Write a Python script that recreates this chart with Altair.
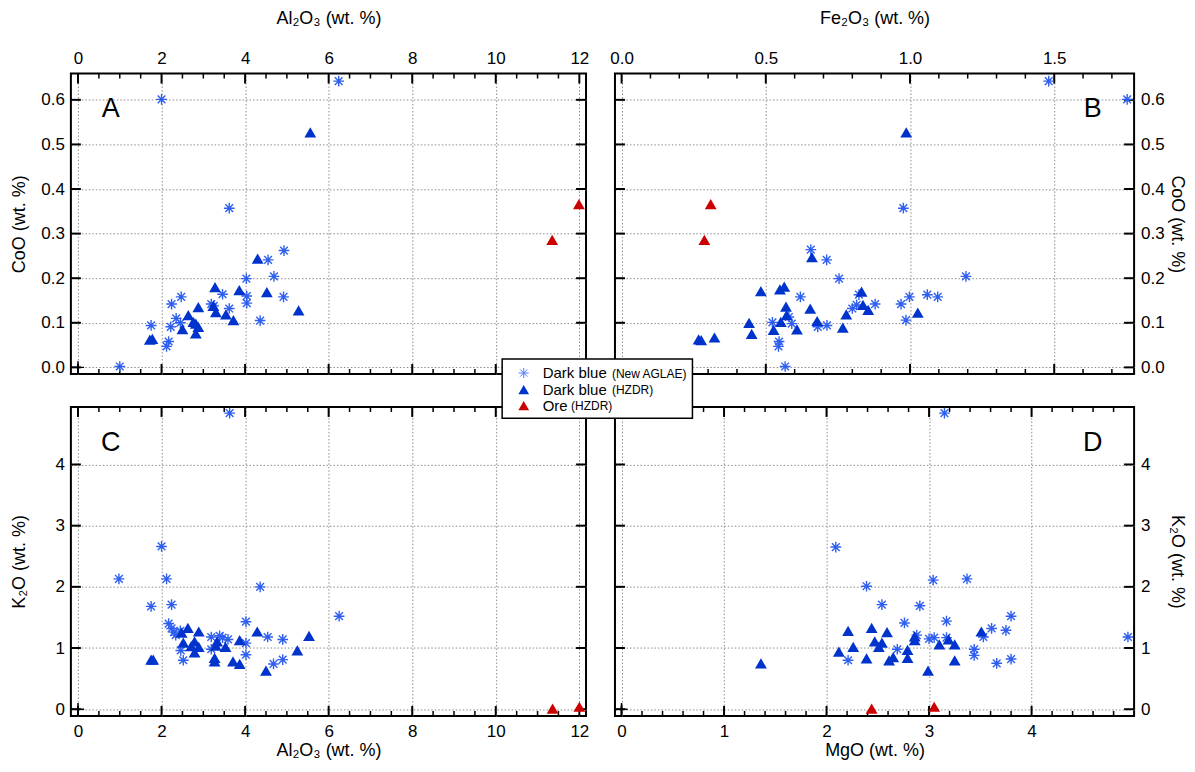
import altair as alt
import pandas as pd

# ---------------- data ----------------
# Panel A : Al2O3 vs CoO
a_aglae_al2o3 = [6.24, 2.00, 3.62, 4.93, 4.55, 4.69, 4.03, 4.92, 4.04, 4.04, 2.47, 2.24, 3.46, 3.19, 3.25, 3.62, 4.36, 1.75, 2.35, 2.45, 2.22, 2.17, 2.12, 1.00]
a_aglae_coo = [0.642, 0.601, 0.357, 0.262, 0.241, 0.204, 0.199, 0.158, 0.160, 0.144, 0.158, 0.142, 0.164, 0.142, 0.138, 0.132, 0.105, 0.094, 0.110, 0.100, 0.091, 0.058, 0.047, 0.002]
a_hzdr_al2o3 = [5.56, 4.30, 3.28, 3.86, 4.52, 2.88, 5.28, 3.24, 3.30, 3.54, 2.64, 3.72, 2.76, 2.82, 2.88, 2.50, 2.82, 1.78, 1.72]
a_hzdr_coo = [0.527, 0.244, 0.180, 0.173, 0.169, 0.135, 0.128, 0.138, 0.124, 0.119, 0.117, 0.106, 0.102, 0.098, 0.091, 0.086, 0.076, 0.064, 0.062]
a_ore_al2o3 = [11.35, 11.99]
a_ore_coo = [0.286, 0.366]

# Panel B : Fe2O3 vs CoO
b_aglae_fe2o3 = [1.481, 1.753, 0.977, 0.656, 0.711, 0.754, 1.194, 0.620, 1.060, 1.096, 0.998, 0.969, 0.879, 0.800, 0.815, 0.823, 0.986, 0.523, 0.580, 0.590, 0.680, 0.712, 0.546, 0.544, 0.567]
b_aglae_coo = [0.642, 0.601, 0.357, 0.264, 0.241, 0.199, 0.204, 0.158, 0.163, 0.158, 0.158, 0.142, 0.142, 0.132, 0.140, 0.163, 0.106, 0.101, 0.113, 0.098, 0.091, 0.094, 0.058, 0.047, 0.002]
b_hzdr_fe2o3 = [0.987, 0.660, 0.483, 0.549, 0.564, 0.570, 0.654, 0.832, 0.837, 0.855, 0.779, 1.027, 0.572, 0.552, 0.678, 0.608, 0.527, 0.442, 0.451, 0.767, 0.322, 0.267, 0.276]
b_hzdr_coo = [0.527, 0.247, 0.171, 0.175, 0.181, 0.136, 0.132, 0.170, 0.140, 0.129, 0.119, 0.123, 0.117, 0.102, 0.104, 0.085, 0.084, 0.100, 0.075, 0.089, 0.067, 0.063, 0.061]
b_ore_fe2o3 = [0.287, 0.309]
b_ore_coo = [0.286, 0.366]

# Panel C : Al2O3 vs K2O
c_aglae_al2o3 = [3.63, 2.00, 0.98, 2.12, 4.36, 1.75, 2.24, 6.25, 4.02, 2.17, 2.24, 2.30, 2.34, 2.45, 3.19, 3.39, 3.46, 3.59, 4.02, 4.54, 4.90, 2.46, 3.19, 4.02, 2.52, 4.68, 4.90]
c_aglae_k2o = [4.84, 2.66, 2.13, 2.13, 2.00, 1.68, 1.71, 1.52, 1.43, 1.40, 1.32, 1.26, 1.21, 1.28, 1.18, 1.20, 1.17, 1.14, 1.08, 1.18, 1.14, 0.96, 0.98, 0.89, 0.80, 0.74, 0.81]
c_hzdr_al2o3 = [2.63, 2.89, 2.48, 4.29, 5.53, 2.52, 2.79, 2.71, 2.89, 3.33, 3.30, 3.53, 3.87, 2.79, 3.27, 3.27, 3.71, 3.87, 5.25, 4.50, 1.75, 1.80]
c_hzdr_k2o = [1.33, 1.27, 1.25, 1.27, 1.20, 1.09, 1.11, 1.03, 1.02, 1.11, 1.04, 1.02, 1.13, 0.93, 0.84, 0.78, 0.78, 0.74, 0.96, 0.63, 0.81, 0.81]
c_ore_al2o3 = [11.36, 12.00]
c_ore_k2o = [0.01, 0.04]

# Panel D : MgO vs K2O
d_aglae_mgo = [3.15, 2.09, 2.39, 3.04, 3.37, 2.54, 2.91, 2.76, 3.17, 3.80, 3.61, 3.75, 3.53, 2.88, 3.00, 3.05, 3.17, 4.94, 2.69, 3.44, 3.44, 2.21, 3.66, 3.80]
d_aglae_k2o = [4.84, 2.65, 2.01, 2.11, 2.13, 1.71, 1.69, 1.41, 1.44, 1.52, 1.32, 1.29, 1.18, 1.21, 1.15, 1.17, 1.17, 1.18, 0.98, 0.98, 0.88, 0.80, 0.75, 0.82]
d_hzdr_mgo = [1.36, 2.21, 2.44, 2.59, 2.12, 2.26, 2.47, 2.54, 2.51, 2.39, 2.61, 2.65, 2.79, 2.79, 2.86, 2.86, 2.99, 3.10, 3.19, 3.25, 3.25, 3.51]
d_hzdr_k2o = [0.75, 1.28, 1.33, 1.26, 0.94, 1.02, 1.11, 1.09, 1.02, 0.83, 0.80, 0.85, 0.97, 0.84, 1.19, 1.13, 0.63, 1.06, 1.14, 1.06, 0.80, 1.27]
d_ore_mgo = [2.44, 3.05]
d_ore_k2o = [0.01, 0.04]

# tick values
al_major = [0, 2, 4, 6, 8, 10, 12]
al_minor = [0.5, 1.0, 1.5, 2.5, 3.0, 3.5, 4.5, 5.0, 5.5, 6.5, 7.0, 7.5, 8.5, 9.0, 9.5, 10.5, 11.0, 11.5]
fe_major = [0.0, 0.5, 1.0, 1.5]
fe_minor = [0.1, 0.2, 0.3, 0.4, 0.6, 0.7, 0.8, 0.9, 1.1, 1.2, 1.3, 1.4, 1.6, 1.7]
mg_major = [0, 1, 2, 3, 4]
mg_minor = [0.2, 0.4, 0.6, 0.8, 1.2, 1.4, 1.6, 1.8, 2.2, 2.4, 2.6, 2.8, 3.2, 3.4, 3.6, 3.8, 4.2, 4.4, 4.6, 4.8]
coo_major = [0.0, 0.1, 0.2, 0.3, 0.4, 0.5, 0.6]
k2o_major = [0, 1, 2, 3, 4]

# legend entries
legend_names = ["Dark blue", "Dark blue", "Ore"]
legend_sources = ["(New AGLAE)", "(HZDR)", "(HZDR)"]

# ---------------- styles ----------------
FONT = "Liberation Sans"
AST_COLOR = "#2f5ff0"
TRI_COLOR = "#0033cc"
ORE_COLOR = "#cc0000"
ASTERISK = "M-1,0L1,0M0,-1L0,1M-0.72,-0.72L0.72,0.72M-0.72,0.72L0.72,-0.72"
CROSS = "M-1,0L1,0M0,-1L0,1"
LAB_PAD = {"top": 6, "bottom": 8, "left": 6.5, "right": 6.5}
TIT_PAD = {"top": 22, "bottom": 1.5, "left": 11.4, "right": 2.5}
MAJ, MIN = 10, 5

W1, W2 = 516, 520
H1, H2 = 301, 309.5


def label_axis(orient, values, fmt, title):
    kw = dict(orient=orient, values=values, format=fmt, title=title, domain=False,
              grid=False, ticks=False, labels=True, labelPadding=LAB_PAD[orient],
              titlePadding=TIT_PAD[orient], labelFlush=False)
    if orient in ("left", "right"):
        kw["minExtent"] = 31
    return alt.Axis(**kw)


def grid_axis(orient, values):
    return alt.Axis(orient=orient, values=values, grid=True, gridColor="#8c8c8c",
                    gridDash=[1.5, 2], gridWidth=1, labels=False, ticks=False,
                    domain=False, title=None)


def make_panel(xs_ast, ys_ast, xs_tri, ys_tri, xs_ore, ys_ore, xcol, ycol,
               xdom, ydom, xmaj, xmin, ymaj, xside, yside, xtitle, ytitle,
               xfmt, yfmt, letter, letter_x, w, h, extra=()):
    ast = pd.DataFrame({xcol: xs_ast, ycol: ys_ast})
    tri = pd.DataFrame({xcol: xs_tri, ycol: ys_tri})
    ore = pd.DataFrame({xcol: xs_ore, ycol: ys_ore})
    origin = pd.DataFrame({xcol: [0.0], ycol: [0.0]})
    xsc = alt.Scale(domain=xdom, nice=False, zero=False)
    ysc = alt.Scale(domain=ydom, nice=False, zero=False)

    def X(ax, field=xcol):
        return alt.X(f"{field}:Q", scale=xsc, axis=ax)

    def Y(ax, field=ycol):
        return alt.Y(f"{field}:Q", scale=ysc, axis=ax)

    grid = alt.Chart(ast).mark_point(opacity=0).encode(
        x=X(grid_axis(xside, xmaj)), y=Y(grid_axis(yside, ymaj)))

    # inward ticks on all four sides, drawn from the tick value lists
    def xticks(vals, length, sw):
        df = pd.DataFrame({"tick": vals})
        top = alt.Chart(df).mark_rule(color="black", strokeWidth=sw).encode(
            x=X(None, "tick"), y=alt.value(0), y2=alt.value(length))
        bot = alt.Chart(df).mark_rule(color="black", strokeWidth=sw).encode(
            x=X(None, "tick"), y=alt.value(h), y2=alt.value(h - length))
        return [top, bot]

    def yticks(vals, length, sw):
        df = pd.DataFrame({"tick": vals})
        left = alt.Chart(df).mark_rule(color="black", strokeWidth=sw).encode(
            y=Y(None, "tick"), x=alt.value(0), x2=alt.value(length))
        right = alt.Chart(df).mark_rule(color="black", strokeWidth=sw).encode(
            y=Y(None, "tick"), x=alt.value(w), x2=alt.value(w - length))
        return [left, right]

    ticks = xticks(xmaj, MAJ, 2) + xticks(xmin, MIN, 1.5) + yticks(ymaj, MAJ, 2)

    l_ast = alt.Chart(ast).mark_point(
        shape=ASTERISK, filled=False, color=AST_COLOR, size=115, strokeWidth=1.4, opacity=1
    ).encode(x=X(label_axis(xside, xmaj, xfmt, xtitle)),
             y=Y(label_axis(yside, ymaj, yfmt, ytitle)))
    l_tri = alt.Chart(tri).mark_point(
        shape="triangle-up", filled=True, color=TRI_COLOR, size=140, opacity=1
    ).encode(x=X(None), y=Y(None))
    l_ore = alt.Chart(ore).mark_point(
        shape="triangle-up", filled=True, color=ORE_COLOR, size=140, opacity=1
    ).encode(x=X(None), y=Y(None))
    l_cross = alt.Chart(origin).mark_point(
        shape=CROSS, filled=False, color="black", size=150, strokeWidth=1.5, opacity=1
    ).encode(x=X(None), y=Y(None))
    l_letter = alt.Chart(pd.DataFrame({"panel": [letter]})).mark_text(
        font=FONT, fontSize=27, align="center", baseline="middle", color="black"
    ).encode(text="panel:N", x=alt.value(letter_x), y=alt.value(36))
    layers = [grid] + ticks + [l_ast, l_tri, l_ore, l_cross, l_letter] + list(extra)
    return alt.layer(*layers).resolve_axis(
        x="independent", y="independent").properties(width=w, height=h)


# legend (drawn inside panel D, which is painted last)
leg_df = pd.DataFrame({"name": legend_names, "source": legend_sources})
row_y = [-34, -17.4, -1.4]
src_x = [-3, -3, -44]
sym_style = [
    dict(shape=ASTERISK, filled=False, color="#4f7bff", size=100, strokeWidth=1.0),
    dict(shape="triangle-up", filled=True, color=TRI_COLOR, size=115),
    dict(shape="triangle-up", filled=True, color=ORE_COLOR, size=115),
]
legend_layers = [
    alt.Chart(leg_df.iloc[[0]]).mark_rect(fill="white", stroke="black", strokeWidth=1.5).encode(
        x=alt.value(-113), x2=alt.value(77.6), y=alt.value(-48), y2=alt.value(11.3))
]
for i in range(len(legend_names)):
    row = leg_df.iloc[[i]]
    legend_layers.append(alt.Chart(row).mark_point(opacity=1, **sym_style[i]).encode(
        x=alt.value(-91.4), y=alt.value(row_y[i])))
    legend_layers.append(alt.Chart(row).mark_text(
        font=FONT, fontSize=15, align="left", baseline="middle", color="black").encode(
        text="name:N", x=alt.value(-72.4), y=alt.value(row_y[i])))
    legend_layers.append(alt.Chart(row).mark_text(
        font=FONT, fontSize=12, align="left", baseline="middle", color="black").encode(
        text="source:N", x=alt.value(src_x[i]), y=alt.value(row_y[i] + 0.5)))

AL = "Al₂O₃ (wt. %)"
FE = "Fe₂O₃ (wt. %)"
CO = "CoO (wt. %)"
KO = "K₂O (wt. %)"
MG = "MgO (wt. %)"

pA = make_panel(a_aglae_al2o3, a_aglae_coo, a_hzdr_al2o3, a_hzdr_coo, a_ore_al2o3, a_ore_coo,
                "Al2O3", "CoO", [-0.17, 12.16], [-0.0149, 0.659], al_major, al_minor, coo_major,
                "top", "left", AL, CO, "d", ".1f", "A", 40, W1, H1)
pB = make_panel(b_aglae_fe2o3, b_aglae_coo, b_hzdr_fe2o3, b_hzdr_coo, b_ore_fe2o3, b_ore_coo,
                "Fe2O3", "CoO", [-0.023, 1.777], [-0.0149, 0.659], fe_major, fe_minor, coo_major,
                "top", "right", FE, CO, ".1f", ".1f", "B", W2 - 41.5, W2, H1)
pC = make_panel(c_aglae_al2o3, c_aglae_k2o, c_hzdr_al2o3, c_hzdr_k2o, c_ore_al2o3, c_ore_k2o,
                "Al2O3", "K2O", [-0.17, 12.16], [-0.11, 4.94], al_major, al_minor, k2o_major,
                "bottom", "left", AL, KO, "d", "d", "C", 40, W1, H2)
pD = make_panel(d_aglae_mgo, d_aglae_k2o, d_hzdr_mgo, d_hzdr_k2o, d_ore_mgo, d_ore_k2o,
                "MgO", "K2O", [-0.064, 5.0], [-0.11, 4.94], mg_major, mg_minor, k2o_major,
                "bottom", "right", MG, KO, "d", "d", "D", W2 - 41.5, W2, H2,
                extra=legend_layers)

chart = alt.concat(
    pA, pB, pC, pD, columns=2, spacing={"row": 33, "column": 29}, bounds="flush",
    padding={"left": 1, "top": 0, "right": 0, "bottom": 0}, background="white"
).configure_view(stroke="black", strokeWidth=2).configure_axis(
    labelFont=FONT, labelFontSize=17, labelColor="black",
    titleFont=FONT, titleFontSize=18, titleFontWeight="normal", titleColor="black",
    minExtent=0)

chart.save("out.html", embed_options={"renderer": "svg", "actions": False})
